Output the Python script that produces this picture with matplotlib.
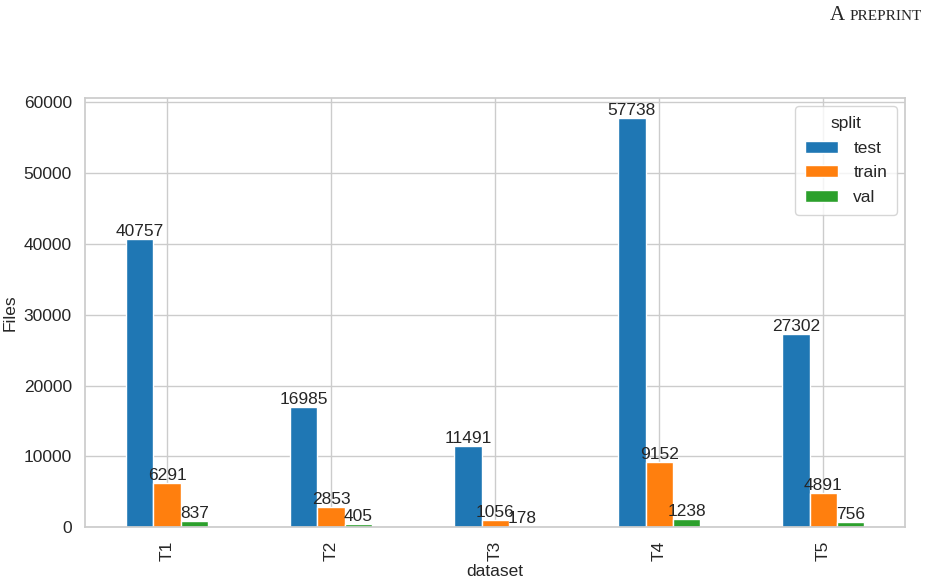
import matplotlib
matplotlib.use("Agg")
import matplotlib.pyplot as plt
import seaborn as sns
import pandas as pd

datasets = ["T1", "T2", "T3", "T4", "T5"]
test = [40757, 16985, 11491, 57738, 27302]
train = [6291, 2853, 1056, 9152, 4891]
val = [837, 405, 178, 1238, 756]

sns.set_theme(style="whitegrid")
plt.rcParams['font.family'] = ['Liberation Sans', 'DejaVu Sans']

df = pd.DataFrame({"test": test, "train": train, "val": val}, index=datasets)
df.index.name = "dataset"
df.columns.name = "split"

FS = 12.5
fig = plt.figure(figsize=(9.28, 5.82), dpi=100)
ax = fig.add_axes([0.0916, 0.094, 0.884, 0.738])
df.plot.bar(ax=ax, color=["#1f77b4", "#ff7f0e", "#2ca02c"], legend=False)
for c in ax.containers:
    ax.bar_label(c, fontsize=FS, color="#262626", padding=0)
ax.set_ylabel("Files", fontsize=FS, labelpad=4)
ax.set_xlabel("dataset", fontsize=FS, labelpad=2)
ax.tick_params(axis="both", labelsize=FS)
ax.legend(title="split", fontsize=12.5, title_fontsize=12.5, loc="upper right",
          labelspacing=0.55, borderpad=0.55, handlelength=1.9, handletextpad=0.9,
          borderaxespad=0.5)

fig.text(0.894, 0.965, "A", fontsize=15, family="Liberation Serif", ha="left", va="baseline")
fig.text(0.915, 0.965, "PREPRINT", fontsize=11, family="Liberation Serif", ha="left", va="baseline")

fig.savefig("out.png", dpi=100)
